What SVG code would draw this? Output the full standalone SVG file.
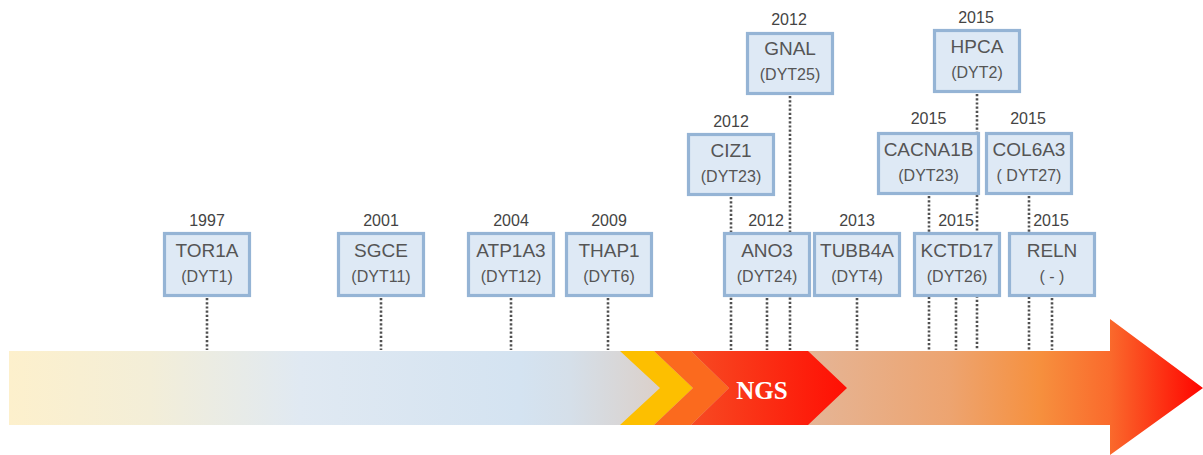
<svg xmlns="http://www.w3.org/2000/svg" width="1203" height="455" viewBox="0 0 1203 455">
  <defs>
    <linearGradient id="bandGrad" gradientUnits="userSpaceOnUse" x1="9" y1="0" x2="1203" y2="0">
      <stop offset="0" stop-color="#fdf0cc"/>
      <stop offset="0.118" stop-color="#f3eed8"/>
      <stop offset="0.244" stop-color="#e0e9f2"/>
      <stop offset="0.428" stop-color="#d4e3f1"/>
      <stop offset="0.47" stop-color="#d5dfe9"/>
      <stop offset="0.52" stop-color="#d9d5d4"/>
      <stop offset="0.669" stop-color="#e5b596"/>
      <stop offset="0.788" stop-color="#eda470"/>
      <stop offset="0.863" stop-color="#f6903e"/>
      <stop offset="0.922" stop-color="#fa6a2c"/>
      <stop offset="1" stop-color="#ff0400"/>
    </linearGradient>
    <linearGradient id="ngsGrad" gradientUnits="userSpaceOnUse" x1="691" y1="0" x2="847" y2="0">
      <stop offset="0" stop-color="#f74a22"/>
      <stop offset="1" stop-color="#ff0f04"/>
    </linearGradient>
  </defs>
  <style>
    .box { fill: #dee9f5; stroke: #95b4d5; stroke-width: 3.2; }
    .name { font-family: "Liberation Sans", Arial, sans-serif; font-size: 19px; fill: #555555; text-anchor: middle; }
    .dyt { font-family: "Liberation Sans", Arial, sans-serif; font-size: 16px; fill: #555555; text-anchor: middle; }
    .year { font-family: "Liberation Sans", Arial, sans-serif; font-size: 16px; fill: #444444; text-anchor: middle; }
    .dot { stroke: #505050; stroke-width: 2.6; stroke-dasharray: 2.2 2; fill: none; }
    .ngs { font-family: "Liberation Serif", "Times New Roman", serif; font-weight: bold; font-size: 25px; fill: #ffffff; text-anchor: middle; }
  </style>

  <!-- timeline arrow -->
  <g id="timeline">
    <path d="M9,351 L1110,351 L1110,319 L1203,388 L1110,455 L1110,425 L9,425 Z" fill="url(#bandGrad)"/>
    <polygon points="620,351 654,351 693,388 654,425 620,425 660,388" fill="#fdbf00"/>
    <polygon points="654,351 691,351 729,388 691,425 654,425 693,388" fill="#fb6a1e"/>
    <polygon points="691,351 808,351 847,388 808,425 691,425 729,388" fill="url(#ngsGrad)"/>
    <text class="ngs" x="762" y="399">NGS</text>
  </g>

  <!-- dotted connectors to the timeline -->
  <g id="connectors">
    <line class="dot" x1="207" y1="298" x2="207" y2="350"/>
    <line class="dot" x1="381" y1="298" x2="381" y2="350"/>
    <line class="dot" x1="511" y1="298" x2="511" y2="350"/>
    <line class="dot" x1="608" y1="298" x2="608" y2="350"/>
    <line class="dot" x1="731" y1="197" x2="731" y2="350"/>
    <line class="dot" x1="767" y1="298" x2="767" y2="350"/>
    <line class="dot" x1="790" y1="96" x2="790" y2="350"/>
    <line class="dot" x1="857" y1="298" x2="857" y2="350"/>
    <line class="dot" x1="929" y1="196" x2="929" y2="350"/>
    <line class="dot" x1="956" y1="298" x2="956" y2="350"/>
    <line class="dot" x1="977" y1="94" x2="977" y2="350"/>
    <line class="dot" x1="1029" y1="196" x2="1029" y2="350"/>
    <line class="dot" x1="1052" y1="298" x2="1052" y2="350"/>
  </g>

  <!-- bottom row -->
  <g id="tor1a">
    <text class="year" x="207" y="226">1997</text>
    <rect class="box" x="164.5" y="233.5" width="85" height="62"/>
    <text class="name" x="207" y="257">TOR1A</text>
    <text class="dyt" x="207" y="282">(DYT1)</text>
  </g>
  <g id="sgce">
    <text class="year" x="381" y="226">2001</text>
    <rect class="box" x="338.5" y="233.5" width="85" height="62"/>
    <text class="name" x="381" y="257">SGCE</text>
    <text class="dyt" x="381" y="282">(DYT11)</text>
  </g>
  <g id="atp1a3">
    <text class="year" x="511" y="226">2004</text>
    <rect class="box" x="468.5" y="233.5" width="85" height="62"/>
    <text class="name" x="511" y="257">ATP1A3</text>
    <text class="dyt" x="511" y="282">(DYT12)</text>
  </g>
  <g id="thap1">
    <text class="year" x="609" y="226">2009</text>
    <rect class="box" x="566.5" y="233.5" width="85" height="62"/>
    <text class="name" x="609" y="257">THAP1</text>
    <text class="dyt" x="609" y="282">(DYT6)</text>
  </g>
  <g id="ano3">
    <text class="year" x="766" y="226">2012</text>
    <rect class="box" x="724.5" y="233.5" width="85" height="62"/>
    <text class="name" x="767" y="257">ANO3</text>
    <text class="dyt" x="767" y="282">(DYT24)</text>
  </g>
  <g id="tubb4a">
    <text class="year" x="857" y="226">2013</text>
    <rect class="box" x="814.5" y="233.5" width="85" height="62"/>
    <text class="name" x="857" y="257">TUBB4A</text>
    <text class="dyt" x="857" y="282">(DYT4)</text>
  </g>
  <g id="kctd17">
    <text class="year" x="956" y="226">2015</text>
    <rect class="box" x="914.5" y="233.5" width="85" height="62"/>
    <text class="name" x="957" y="257">KCTD17</text>
    <text class="dyt" x="957" y="282">(DYT26)</text>
  </g>
  <g id="reln">
    <text class="year" x="1051" y="226">2015</text>
    <rect class="box" x="1009.5" y="233.5" width="85" height="62"/>
    <text class="name" x="1052" y="257">RELN</text>
    <text class="dyt" x="1052" y="282">( - )</text>
  </g>

  <!-- middle row -->
  <g id="ciz1">
    <text class="year" x="731" y="127">2012</text>
    <rect class="box" x="688.5" y="134.5" width="85" height="60"/>
    <text class="name" x="731" y="157">CIZ1</text>
    <text class="dyt" x="731" y="182">(DYT23)</text>
  </g>
  <g id="cacna1b">
    <text class="year" x="928.5" y="124">2015</text>
    <rect class="box" x="878.5" y="133.5" width="100" height="60"/>
    <text class="name" x="928.5" y="156">CACNA1B</text>
    <text class="dyt" x="928.5" y="181">(DYT23)</text>
  </g>
  <g id="col6a3">
    <text class="year" x="1028" y="124">2015</text>
    <rect class="box" x="986.5" y="133.5" width="85" height="60"/>
    <text class="name" x="1029" y="156">COL6A3</text>
    <text class="dyt" x="1029" y="181">( DYT27)</text>
  </g>

  <!-- top row -->
  <g id="gnal">
    <text class="year" x="789" y="25">2012</text>
    <rect class="box" x="747.5" y="33.5" width="85" height="60"/>
    <text class="name" x="790" y="55">GNAL</text>
    <text class="dyt" x="790" y="80">(DYT25)</text>
  </g>
  <g id="hpca">
    <text class="year" x="976" y="23">2015</text>
    <rect class="box" x="934.5" y="30.5" width="85" height="61"/>
    <text class="name" x="977" y="53">HPCA</text>
    <text class="dyt" x="977" y="78">(DYT2)</text>
  </g>
</svg>
